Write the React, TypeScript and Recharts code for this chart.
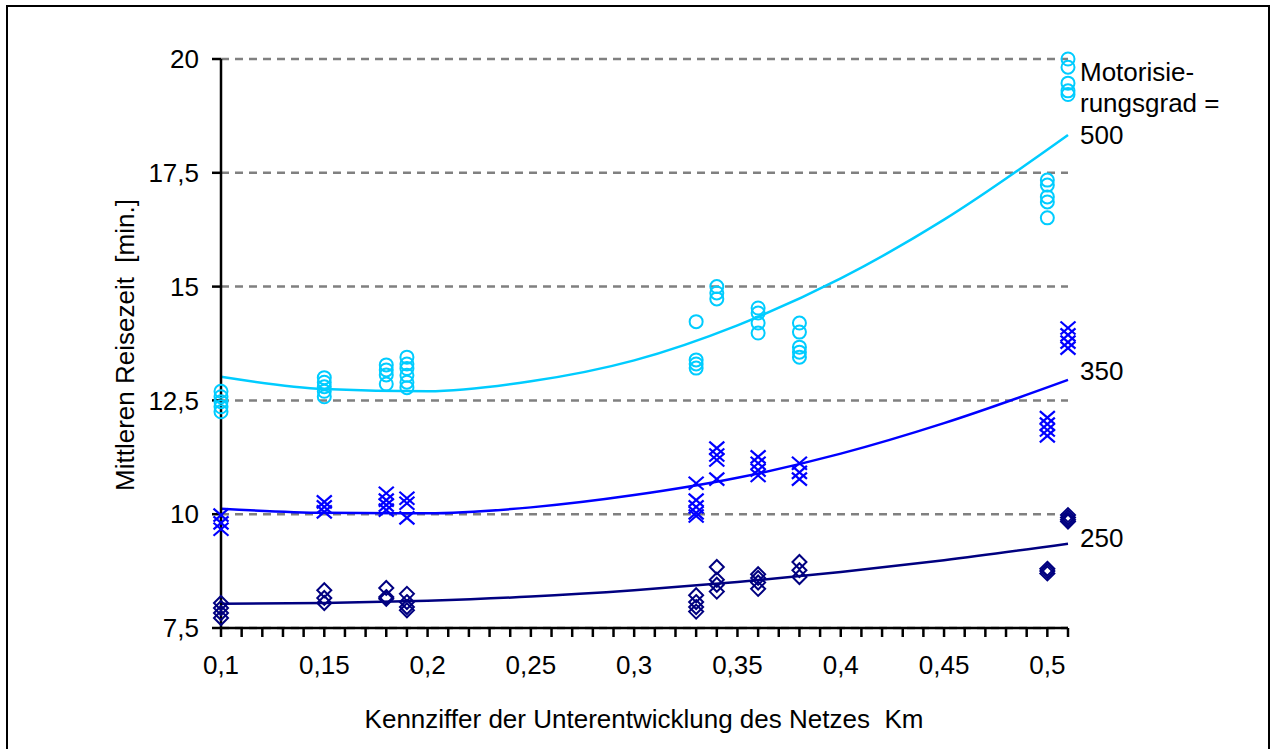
import React from 'react';
import { ComposedChart, Scatter, Line, XAxis, YAxis, CartesianGrid } from 'recharts';

const FONT = '"Liberation Sans", Arial, Helvetica, sans-serif';

// X axis ticks (minor every 0.01) and labels on the majors
const xTicks = [
  0.1, 0.11, 0.12, 0.13, 0.14, 0.15, 0.16, 0.17, 0.18, 0.19, 0.2,
  0.21, 0.22, 0.23, 0.24, 0.25, 0.26, 0.27, 0.28, 0.29, 0.3,
  0.31, 0.32, 0.33, 0.34, 0.35, 0.36, 0.37, 0.38, 0.39, 0.4,
  0.41, 0.42, 0.43, 0.44, 0.45, 0.46, 0.47, 0.48, 0.49, 0.5, 0.51,
];
const xMajorTicks = [0.1, 0.15, 0.2, 0.25, 0.3, 0.35, 0.4, 0.45, 0.5];
const xMajorLabels = ['0,1', '0,15', '0,2', '0,25', '0,3', '0,35', '0,4', '0,45', '0,5'];

const yTicks = [7.5, 10, 12.5, 15, 17.5, 20];
const yTickLabels = ['7,5', '10', '12,5', '15', '17,5', '20'];

// Observed points: [Km, mittlere Reisezeit]
const points500: [number, number][] = [
  [0.1, 12.7], [0.1, 12.58], [0.1, 12.47], [0.1, 12.36], [0.1, 12.25],
  [0.15, 13.0], [0.15, 12.9], [0.15, 12.8], [0.15, 12.7], [0.15, 12.58],
  [0.18, 13.28], [0.18, 13.17], [0.18, 13.06], [0.18, 12.86],
  [0.19, 13.45], [0.19, 13.3], [0.19, 13.2], [0.19, 13.05], [0.19, 12.9], [0.19, 12.78],
  [0.33, 14.23], [0.33, 13.39], [0.33, 13.3], [0.33, 13.21],
  [0.34, 15.0], [0.34, 14.86], [0.34, 14.73],
  [0.36, 14.53], [0.36, 14.42], [0.36, 14.2], [0.36, 13.98],
  [0.38, 14.2], [0.38, 14.0], [0.38, 13.67], [0.38, 13.56], [0.38, 13.45],
  [0.5, 17.34], [0.5, 17.23], [0.5, 16.97], [0.5, 16.86], [0.5, 16.51],
  [0.51, 20.0], [0.51, 19.82], [0.51, 19.47], [0.51, 19.3], [0.51, 19.22],
];

const points350: [number, number][] = [
  [0.1, 9.98], [0.1, 9.81], [0.1, 9.67],
  [0.15, 10.27], [0.15, 10.16], [0.15, 10.05],
  [0.18, 10.46], [0.18, 10.31], [0.18, 10.2], [0.18, 10.09],
  [0.19, 10.35], [0.19, 10.24], [0.19, 9.92],
  [0.33, 10.68], [0.33, 10.31], [0.33, 10.16], [0.33, 10.03], [0.33, 9.96],
  [0.34, 11.45], [0.34, 11.3], [0.34, 11.19], [0.34, 10.77],
  [0.36, 11.26], [0.36, 11.12], [0.36, 10.97], [0.36, 10.85],
  [0.38, 11.12], [0.38, 10.92], [0.38, 10.77],
  [0.5, 12.12], [0.5, 11.98], [0.5, 11.85], [0.5, 11.72],
  [0.51, 14.09], [0.51, 13.94], [0.51, 13.78], [0.51, 13.65],
];

const points250: [number, number][] = [
  [0.1, 8.05], [0.1, 7.94], [0.1, 7.83], [0.1, 7.72],
  [0.15, 8.33], [0.15, 8.16], [0.15, 8.05],
  [0.18, 8.38], [0.18, 8.18], [0.18, 8.14],
  [0.19, 8.25], [0.19, 8.07], [0.19, 7.96], [0.19, 7.89],
  [0.33, 8.22], [0.33, 8.07], [0.33, 7.96], [0.33, 7.86],
  [0.34, 8.84], [0.34, 8.56], [0.34, 8.45], [0.34, 8.3],
  [0.36, 8.68], [0.36, 8.6], [0.36, 8.5], [0.36, 8.36],
  [0.38, 8.95], [0.38, 8.77], [0.38, 8.62],
  [0.5, 8.8], [0.5, 8.75], [0.5, 8.7],
  [0.51, 9.98], [0.51, 9.93], [0.51, 9.88], [0.51, 9.84],
];

// Trend curves
const trendKm = [0.1, 0.15, 0.2, 0.25, 0.3, 0.35, 0.4, 0.45, 0.51];
const trend500 = [13.02, 12.75, 12.7, 12.92, 13.38, 14.15, 15.18, 16.47, 18.33];
const trend350 = [10.12, 10.03, 10.02, 10.15, 10.42, 10.8, 11.33, 12.0, 12.95];
const trend250 = [8.03, 8.05, 8.1, 8.19, 8.33, 8.51, 8.73, 8.99, 9.35];

const C500 = '#00CCFF';
const C350 = '#0000FF';
const C250 = '#000080';

const toPts = (arr: [number, number][]) => arr.map(([km, time]) => ({ km, time }));
const toTrend = (vals: number[]) => trendKm.map((km, i) => ({ km, time: vals[i] }));

const CircleShape = (p: any) => (
  <circle cx={p.cx} cy={p.cy} r={6.5} fill="none" stroke={C500} strokeWidth={2} />
);
const CrossShape = (p: any) => (
  <g stroke={C350} strokeWidth={2.2}>
    <line x1={p.cx - 7.5} y1={p.cy - 6.5} x2={p.cx + 7.5} y2={p.cy + 6.5} />
    <line x1={p.cx - 7.5} y1={p.cy + 6.5} x2={p.cx + 7.5} y2={p.cy - 6.5} />
  </g>
);
const DiamondShape = (p: any) => (
  <path
    d={`M${p.cx},${p.cy - 7} L${p.cx + 7},${p.cy} L${p.cx},${p.cy + 7} L${p.cx - 7},${p.cy} Z`}
    fill="none"
    stroke={C250}
    strokeWidth={2}
  />
);

const fmtX = (v: number) => {
  const i = xMajorTicks.findIndex((m) => Math.abs(m - v) < 1e-6);
  return i >= 0 ? xMajorLabels[i] : '';
};
const fmtY = (v: number) => {
  const i = yTicks.findIndex((m) => Math.abs(m - v) < 1e-6);
  return i >= 0 ? yTickLabels[i] : '';
};

export default function App() {
  const fs = 26;
  return (
    <div style={{ position: 'absolute', left: 0, top: 0, width: 1280, height: 749, overflow: 'hidden', background: '#fff', fontFamily: FONT }}>
      <div style={{ position: 'absolute', left: 6, top: 5, width: 1264, height: 760, border: '2px solid #000', boxSizing: 'border-box' }} />
      <ComposedChart
        width={1280}
        height={749}
        margin={{ top: 59, right: 212, bottom: 0, left: 0 }}
        style={{ position: 'absolute', left: 0, top: 0 }}
      >
        <CartesianGrid horizontal vertical={false} stroke="#808080" strokeWidth={2.5} strokeDasharray="8 6" />
        <XAxis
          type="number"
          dataKey="km"
          domain={[0.1, 0.51]}
          ticks={xTicks}
          interval={0}
          tickFormatter={fmtX}
          height={121}
          stroke="#000"
          strokeWidth={2.5}
          tickSize={9}
          tickMargin={19}
          tick={{ fill: '#000', fontSize: fs, fontFamily: FONT }}
        />
        <YAxis
          type="number"
          dataKey="time"
          domain={[7.5, 20]}
          ticks={yTicks}
          interval={0}
          tickFormatter={fmtY}
          width={221}
          stroke="#000"
          strokeWidth={2.5}
          tickSize={9}
          tickMargin={13}
          tick={{ fill: '#000', fontSize: fs, fontFamily: FONT }}
        />
        <Line data={toTrend(trend500)} dataKey="time" type="monotone" stroke={C500} strokeWidth={2.5} dot={false} isAnimationActive={false} />
        <Line data={toTrend(trend350)} dataKey="time" type="monotone" stroke={C350} strokeWidth={2.5} dot={false} isAnimationActive={false} />
        <Line data={toTrend(trend250)} dataKey="time" type="monotone" stroke={C250} strokeWidth={2.5} dot={false} isAnimationActive={false} />
        <Scatter data={toPts(points500)} dataKey="time" shape={CircleShape} isAnimationActive={false} />
        <Scatter data={toPts(points350)} dataKey="time" shape={CrossShape} isAnimationActive={false} />
        <Scatter data={toPts(points250)} dataKey="time" shape={DiamondShape} isAnimationActive={false} />
      </ComposedChart>
      <svg width={1280} height={749} style={{ position: 'absolute', left: 0, top: 0, pointerEvents: 'none' }}>
        <g fontFamily={FONT} fontSize={fs} fill="#000" style={{ whiteSpace: 'pre' }}>
          <text x={1080} y={72} dominantBaseline="central">Motorisie-</text>
          <text x={1080} y={103} dominantBaseline="central">rungsgrad =</text>
          <text x={1080} y={135} dominantBaseline="central">500</text>
          <text x={1080} y={371} dominantBaseline="central">350</text>
          <text x={1080} y={538} dominantBaseline="central">250</text>
          <text x={644} y={719} textAnchor="middle" dominantBaseline="central" style={{ whiteSpace: 'pre' }}>{'Kennziffer der Unterentwicklung des Netzes  Km'}</text>
          <text x={125} y={345} textAnchor="middle" dominantBaseline="central" transform="rotate(-90 125 345)" style={{ whiteSpace: 'pre' }}>{'Mittleren Reisezeit  [min.]'}</text>
        </g>
      </svg>
    </div>
  );
}
